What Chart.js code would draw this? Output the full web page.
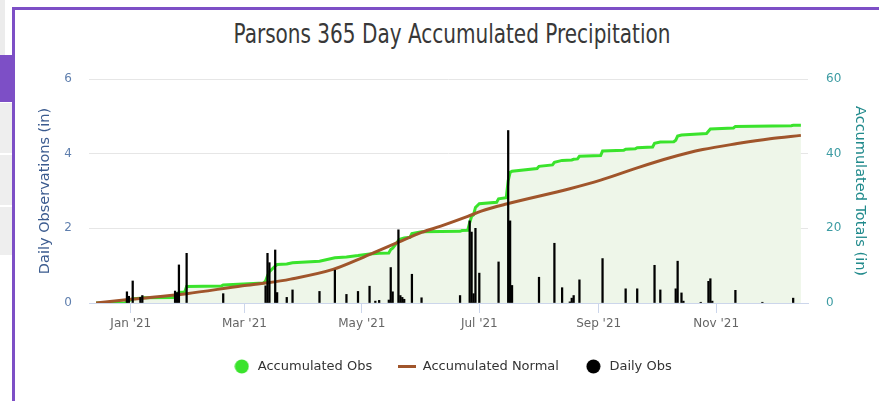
<!DOCTYPE html>
<html>
<head>
<meta charset="utf-8">
<script src="https://cdn.jsdelivr.net/npm/chart.js@4"></script>
<style>
  html, body { margin: 0; padding: 0; background: #fff; overflow: hidden; width: 879px; height: 401px; }
  #wrap { position: absolute; left: 25px; top: 0; width: 854px; height: 383px; }
  .deco { position: absolute; }
  #title { position: absolute; left: 452px; top: 18px; line-height: 32px; white-space: nowrap;
           font-family: 'DejaVu Sans Condensed', 'DejaVu Sans', sans-serif; font-size: 27px; color: #383838;
           transform: translateX(-50%) scaleX(0.825); transform-origin: center; }
</style>
</head>
<body>
<div class="deco" style="left:0;top:0;width:5px;height:55px;background:#ececec;"></div>
<div class="deco" style="left:0;top:103px;width:12px;height:50px;background:#eeeeee;"></div>
<div class="deco" style="left:0;top:155px;width:12px;height:50px;background:#eeeeee;"></div>
<div class="deco" style="left:0;top:207px;width:12px;height:48px;background:#eeeeee;"></div>
<div class="deco" style="left:0;top:55px;width:15px;height:47px;background:#7d4fc6;"></div>
<div class="deco" style="left:12px;top:7px;width:867px;height:3px;background:#7d4fc6;"></div>
<div class="deco" style="left:12px;top:7px;width:3px;height:394px;background:#7d4fc6;"></div>
<div id="title">Parsons 365 Day Accumulated Precipitation</div>
<div id="wrap"><canvas id="c" width="854" height="383"></canvas></div>
<script>
// ---- data (x = days relative to 1 Jan 2021) ----
const tickDays = [0, 59, 120, 181, 243, 304];
const tickLabels = ["Jan '21", "Mar '21", "May '21", "Jul '21", "Sep '21", "Nov '21"];

const dailyDays = [-2,-1,1,5,6,23,24,25,29,48,70,71,72,75,76,81,84,98,106,112,118,124,127,129,134,135,136,139,140,141,142,146,151,171,176,177,178,179,181,191,196,197,198,212,220,224,228,229,230,233,245,257,263,272,275,283,284,286,287,296,300,301,302,314,328,344];
const dailyObs = [0.30,0.18,0.59,0.15,0.20,0.32,0.28,1.02,1.33,0.25,0.46,1.33,1.08,1.42,0.28,0.15,0.35,0.31,0.88,0.23,0.31,0.45,0.05,0.07,0.08,0.95,0.30,1.96,0.20,0.15,0.10,0.77,0.14,0.20,2.20,1.90,0.25,2.00,0.80,1.10,4.62,2.20,0.47,0.69,1.60,0.41,0.03,0.13,0.20,0.62,1.19,0.38,0.38,1.01,0.35,0.38,1.12,0.27,0.05,0.02,0.58,0.65,0.05,0.34,0.02,0.13];

const obsDays = [-18,-3,-2,-1,1,5,6,22,23,25,28,29,47,48,69,70,71,72,75,76,81,84,98,106,112,118,124,129,134,135,136,139,140,142,145,146,151,171,172,175,176,177,178,179,181,190,191,195,196,197,198,211,212,219,220,224,229,230,232,233,244,245,256,257,262,263,271,272,275,282,283,284,286,299,300,301,313,314,343,344,348];
const obsTotals = [0,0.05,0.4,0.55,1.15,1.25,1.4,1.45,1.8,2.9,2.95,4.45,4.55,4.85,5.35,5.9,7.3,8.4,9.9,10.3,10.45,10.8,11.2,12.1,12.35,12.7,13.15,13.3,13.4,14.3,14.7,16.7,17.1,17.4,17.6,18.6,19.1,19.2,19.4,19.5,21.5,23.2,23.6,25.6,26.6,27.0,27.9,28.2,32.8,35.0,35.3,36.0,36.6,37.0,37.7,38.2,38.3,38.5,38.6,39.3,39.5,40.7,40.9,41.2,41.3,41.6,41.8,42.8,43.1,43.2,43.6,44.7,45.0,45.4,46.0,46.6,46.9,47.3,47.5,47.6,47.6];

const normalDays = [-18,0,29,58,71,83,105,121,126,139,151,161,175,182,195,228,244,263,280,297,315,332,348];
const normalTotals = [0,1.0,2.5,4.6,5.4,6.4,9.0,12.3,13.4,16.3,18.9,20.6,23.2,24.6,26.5,30.6,32.9,36.2,38.9,41.1,42.7,44.0,44.9];

const GREEN = '#3ae32c', BROWN = '#a0552b';

function dotImg(color) {
  const c = document.createElement('canvas'); c.width = 15; c.height = 15;
  const x = c.getContext('2d'); x.fillStyle = color; x.beginPath(); x.arc(7.5, 7.5, 7, 0, Math.PI * 2); x.fill();
  return c;
}
function lineImg(color) {
  const c = document.createElement('canvas'); c.width = 18; c.height = 3;
  const x = c.getContext('2d'); x.fillStyle = color; x.fillRect(0, 0, 18, 3);
  return c;
}
const legendIcons = [dotImg(GREEN), lineImg(BROWN), dotImg('#000')];

const FONT = "'DejaVu Sans', Verdana, sans-serif";

new Chart(document.getElementById('c'), {
  type: 'line',
  data: {
    datasets: [
      {
        label: 'Accumulated Obs', type: 'line', yAxisID: 'y2', order: 3,
        data: obsDays.map((d, i) => ({x: d, y: obsTotals[i]})),
        borderColor: GREEN, borderWidth: 3, backgroundColor: '#eef6e9',
        fill: 'origin', pointRadius: 0, tension: 0
      },
      {
        label: 'Accumulated Normal', type: 'line', yAxisID: 'y2', order: 2,
        data: normalDays.map((d, i) => ({x: d, y: normalTotals[i]})),
        borderColor: BROWN, borderWidth: 3, fill: false, pointRadius: 0,
        cubicInterpolationMode: 'monotone'
      },
      {
        label: 'Daily Obs', type: 'bar', yAxisID: 'y', order: 1,
        data: dailyDays.map((d, i) => ({x: d, y: dailyObs[i]})),
        backgroundColor: '#000', barThickness: 1.6
      }
    ]
  },
  options: {
    responsive: false, animation: false, devicePixelRatio: 1,
    layout: { padding: { top: 79, left: 0, right: 0, bottom: 0 } },
    plugins: {
      tooltip: { enabled: false },
      title: { display: false },
      legend: {
        position: 'bottom',
        labels: {
          usePointStyle: true, pointStyleWidth: 19, padding: 25,
          color: '#333333', font: { family: FONT, size: 13 },
          sort: (a, b) => a.datasetIndex - b.datasetIndex,
          generateLabels: (chart) => chart.data.datasets.map((ds, i) => ({
            text: ds.label, datasetIndex: i, pointStyle: legendIcons[i],
            fillStyle: 'transparent', strokeStyle: 'transparent', lineWidth: 0,
            hidden: false, fontColor: '#333333'
          }))
        }
      }
    },
    scales: {
      x: {
        type: 'linear', min: -21.7, max: 351.7, offset: false,
        afterBuildTicks: (s) => { s.ticks = tickDays.map(v => ({value: v})); },
        afterFit: (s) => { s.height = 32; },
        ticks: {
          color: '#666666', font: { family: FONT, size: 12 }, padding: 3.5,
          autoSkip: false, maxRotation: 0,
          callback: (v) => { const i = tickDays.indexOf(v); return i >= 0 ? tickLabels[i] : ''; }
        },
        grid: { offset: false, drawOnChartArea: false, drawTicks: true, tickLength: 10, tickColor: '#ccd6eb', color: '#ccd6eb' },
        border: { display: true, color: '#ccd6eb', width: 1 }
      },
      y: {
        position: 'left', min: 0, max: 6,
        afterFit: (s) => { s.width = 64; },
        ticks: { stepSize: 2, color: '#5f7fae', font: { family: FONT, size: 12 }, padding: 17 },
        grid: { color: '#e6e6e6', drawTicks: false },
        border: { display: false },
        title: {
          display: true, text: 'Daily Observations (in)', color: '#3b5b8f',
          font: { family: FONT, size: 14.5 }, padding: { top: 11.3, bottom: 0 }
        }
      },
      y2: {
        position: 'right', min: 0, max: 60,
        afterFit: (s) => { s.width = 71; },
        ticks: { stepSize: 20, color: '#3d9ca3', font: { family: FONT, size: 12 }, padding: 18 },
        grid: { drawOnChartArea: false, drawTicks: false },
        border: { display: false },
        title: {
          display: true, text: 'Accumulated Totals (in)', color: '#218a8c',
          font: { family: FONT, size: 14.5 }, padding: { top: 10.3, bottom: 0 }
        }
      }
    }
  }
});
</script>
</body>
</html>
